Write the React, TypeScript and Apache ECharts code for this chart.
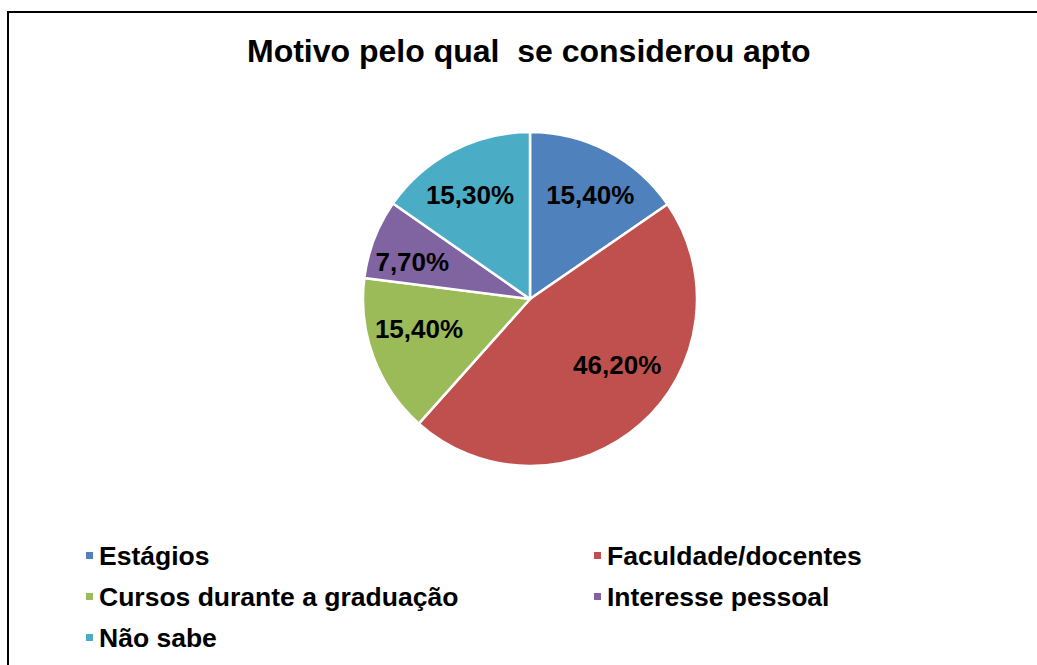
import React, { useEffect, useRef } from "react";
import * as echarts from "echarts";

const TITLE = "Motivo pelo qual  se considerou apto";
const categories = [
  "Estágios",
  "Faculdade/docentes",
  "Cursos durante a graduação",
  "Interesse pessoal",
  "Não sabe",
];
const values = [15.4, 46.2, 15.4, 7.7, 15.3];
const labelsText = ["15,40%", "46,20%", "15,40%", "7,70%", "15,30%"];
const colors = ["#4F81BD", "#C0504D", "#9BBB59", "#8064A2", "#4BACC6"];
const legendLeftItems = [categories[0], categories[2], categories[4]];
const legendRightItems = [categories[1], categories[3]];
// label nudges (Excel best-fit placement vs. ECharts mid-radius placement)
const labelNudge: [number, number][] = [
  [20, -27],
  [30, 1],
  [-30, 0],
  [-37, -6],
  [-20, -27],
];

export default function App() {
  const ref = useRef<HTMLDivElement>(null);
  useEffect(() => {
    if (!ref.current) return;
    const chart = echarts.init(ref.current, undefined, { renderer: "svg" });
    const font = "'Liberation Sans', Arial, sans-serif";
    const legendCommon = {
      orient: "vertical" as const,
      icon: "rect",
      itemWidth: 9,
      itemHeight: 9,
      itemGap: 14,
      textStyle: { fontSize: 26.5, fontWeight: "bold" as const, color: "#000", fontFamily: font },
      selectedMode: false,
    };
    chart.setOption({
      animation: false,
      color: colors,
      title: {
        text: TITLE,
        left: 242,
        top: 30,
        textStyle: { fontSize: 32, fontWeight: "bold", color: "#000", fontFamily: font },
      },
      legend: [
        { ...legendCommon, left: 79, top: 537, data: legendLeftItems },
        { ...legendCommon, left: 587, top: 537, data: legendRightItems },
      ],
      graphic: [
        {
          type: "rect",
          shape: { x: 8, y: 12, width: 1100, height: 800 },
          style: { fill: "none", stroke: "#000", lineWidth: 2 },
          silent: true,
        },
      ],
      series: [
        {
          type: "pie",
          center: [530, 299],
          radius: [0, 167],
          startAngle: 90,
          clockwise: true,
          itemStyle: { borderColor: "#fff", borderWidth: 2.5 },
          label: {
            show: true,
            position: "inside",
            fontSize: 26,
            fontWeight: "bold",
            color: "#000",
            fontFamily: font,
            formatter: (p: any) => labelsText[p.dataIndex],
          },
          labelLayout: (p: any) => ({
            dx: labelNudge[p.dataIndex][0],
            dy: labelNudge[p.dataIndex][1],
          }),
          emphasis: { disabled: true },
          data: categories.map((c, i) => ({ name: c, value: values[i] })),
        },
      ],
    });
    return () => chart.dispose();
  }, []);
  return (
    <div
      ref={ref}
      style={{ position: "absolute", left: 0, top: 0, width: 1037, height: 665, background: "#fff" }}
    />
  );
}
